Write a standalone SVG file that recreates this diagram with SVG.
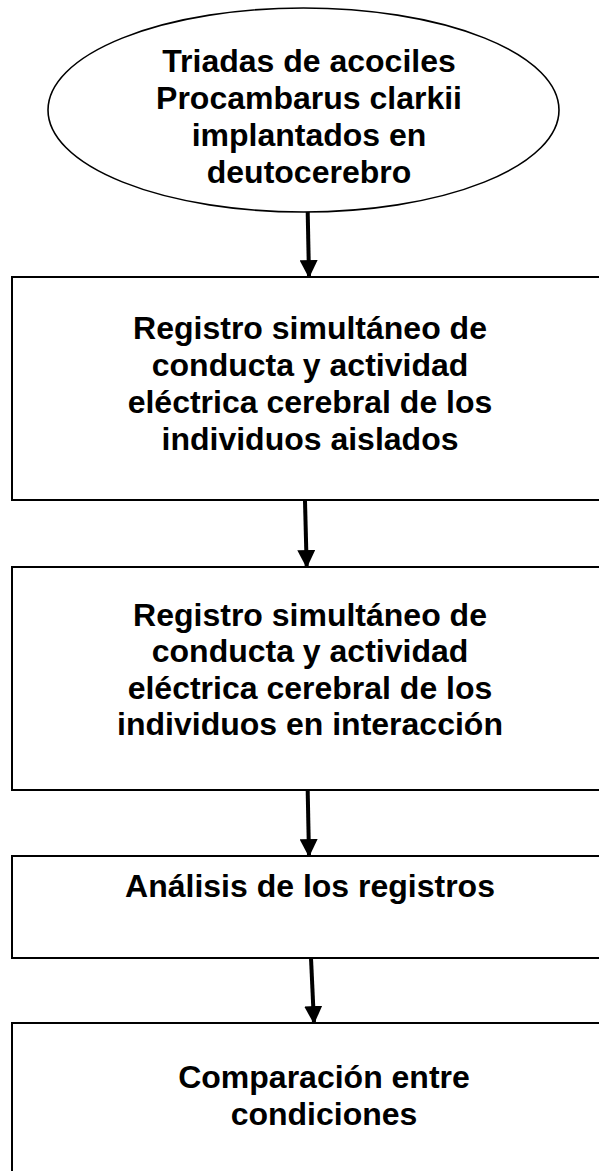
<svg xmlns="http://www.w3.org/2000/svg" width="599" height="1171" viewBox="0 0 599 1171">
<style>
.box{fill:#fff;stroke:#000;stroke-width:2}
.oval{fill:#fff;stroke:#000;stroke-width:1.6}
.t{font-family:"Liberation Sans",Arial,sans-serif;font-weight:bold;font-size:32px;fill:#000;text-anchor:middle}
.c{stroke:#000;stroke-width:4;fill:none;marker-end:url(#ah)}
</style>
<defs>
<marker id="ah" markerUnits="userSpaceOnUse" markerWidth="18" markerHeight="18" viewBox="0 0 16 16" refX="15" refY="8" orient="auto">
<path d="M0,0 L16,8 L0,16 Z" fill="#000"/>
</marker>
</defs>
<rect width="599" height="1171" fill="#fff"/>
<g id="n1">
<ellipse class="oval" cx="303.5" cy="110" rx="255.5" ry="102"/>
<text class="t" x="309" y="72">Triadas de acociles</text>
<text class="t" x="309" y="109">Procambarus clarkii</text>
<text class="t" x="309" y="146">implantados en</text>
<text class="t" x="309" y="183">deutocerebro</text>
</g>
<g id="n2">
<rect class="box" x="12" y="277" width="600" height="223"/>
<text class="t" x="310" y="339">Registro simultáneo de</text>
<text class="t" x="310" y="376">conducta y actividad</text>
<text class="t" x="310" y="413">eléctrica cerebral de los</text>
<text class="t" x="310" y="450">individuos aislados</text>
</g>
<g id="n3">
<rect class="box" x="12" y="567" width="600" height="223"/>
<text class="t" x="310" y="626">Registro simultáneo de</text>
<text class="t" x="310" y="662">conducta y actividad</text>
<text class="t" x="310" y="699">eléctrica cerebral de los</text>
<text class="t" x="310" y="735">individuos en interacción</text>
</g>
<g id="n4">
<rect class="box" x="12" y="856" width="600" height="102"/>
<text class="t" x="310" y="897">Análisis de los registros</text>
</g>
<g id="n5">
<rect class="box" x="12" y="1023" width="600" height="160"/>
<text class="t" x="324" y="1088">Comparación entre</text>
<text class="t" x="324" y="1125">condiciones</text>
</g>
<g id="connectors">
<line class="c" x1="307.7" y1="212" x2="309" y2="277"/>
<line class="c" x1="305" y1="501" x2="306.7" y2="567"/>
<line class="c" x1="307.7" y1="791" x2="309" y2="856"/>
<line class="c" x1="311" y1="958" x2="314" y2="1023"/>
</g>
</svg>
